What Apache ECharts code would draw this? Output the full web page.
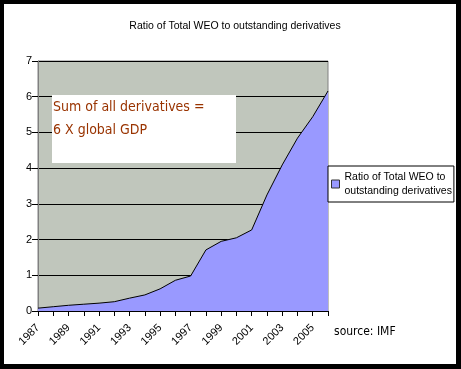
<!DOCTYPE html>
<html><head><meta charset="utf-8">
<script src="https://cdn.jsdelivr.net/npm/echarts@6/dist/echarts.min.js"></script>
<style>html,body{margin:0;padding:0;background:#000;}#c{width:461px;height:369px;}</style>
</head><body><div id="c"></div>
<script>
const years = ['1987','1988','1989','1990','1991','1992','1993','1994','1995','1996','1997','1998','1999','2000','2001','2002','2003','2004','2005','2006'];
const ratio = [0.08,0.12,0.16,0.19,0.22,0.26,0.36,0.45,0.62,0.86,0.98,1.71,1.95,2.05,2.27,3.25,4.09,4.84,5.44,6.16];
const seriesName = 'Ratio of Total WEO to outstanding derivatives';
const titleText = 'Ratio of Total WEO to outstanding derivatives';
const noteLines = ['Sum of all derivatives =', '6 X global GDP'];
const sourceText = 'source: IMF';

const sans = '"Liberation Sans", Arial, sans-serif';
const cond = '"DejaVu Sans Condensed", "DejaVu Sans", sans-serif';
const chart = echarts.init(document.getElementById('c'));
chart.setOption({
  backgroundColor: '#000',
  animation: false,
  title: {
    text: titleText, left: 230, textAlign: 'center', top: 16,
    textStyle: {fontSize: 10.5, fontWeight: 'normal', color: '#000', fontFamily: sans}
  },
  grid: {left: 38, top: 61, right: 133, bottom: 58, show: true,
         backgroundColor: '#c0c6bc', borderColor: '#808080', borderWidth: 1},
  legend: {
    left: 328, top: 166, orient: 'vertical',
    backgroundColor: '#fff', borderColor: '#000', borderWidth: 1,
    padding: [4, 2, 4, 3], itemWidth: 8, itemHeight: 8, itemGap: 2,
    icon: 'rect',
    formatter: () => 'Ratio of Total WEO to\noutstanding derivatives',
    textStyle: {fontSize: 10.5, color: '#000', fontFamily: sans, lineHeight: 14},
    data: [{name: seriesName, itemStyle: {color: '#9999ff', borderColor: '#333', borderWidth: 1}}]
  },
  xAxis: {
    type: 'category', data: years, boundaryGap: false,
    axisLine: {lineStyle: {color: '#000', width: 1}},
    axisTick: {interval: 0, length: 5, lineStyle: {color: '#000'}},
    axisLabel: {interval: 1, rotate: 45, fontSize: 11, color: '#000', fontFamily: sans, margin: 15},
    splitLine: {show: false}
  },
  yAxis: {
    type: 'value', min: 0, max: 7, interval: 1,
    axisLine: {show: true, lineStyle: {color: '#808080'}},
    axisTick: {show: true, length: 6, lineStyle: {color: '#000'}},
    axisLabel: {fontSize: 11, color: '#000', fontFamily: sans, margin: 6},
    splitLine: {show: true, lineStyle: {color: '#000', width: 1}}
  },
  graphic: [
    {type: 'rect', z: -10, silent: true, shape: {x: 4, y: 4, width: 452, height: 360}, style: {fill: '#fff'}},
    {type: 'rect', z: 100, shape: {x: 52, y: 95, width: 184, height: 68}, style: {fill: '#fff'}},
    {type: 'text', z: 101, left: 53, top: 96,
     style: {text: noteLines.join('\n'), fill: '#993300', fontSize: 14, lineHeight: 23, fontFamily: cond}},
    {type: 'text', z: 101, left: 334, top: 326,
     style: {text: sourceText, fill: '#000', fontSize: 12, fontFamily: cond}}
  ],
  series: [{
    name: seriesName, type: 'line', data: ratio, symbol: 'none',
    lineStyle: {color: '#000', width: 1},
    areaStyle: {color: '#9999ff', opacity: 1},
    itemStyle: {color: '#9999ff'}
  }]
});
</script></body></html>
